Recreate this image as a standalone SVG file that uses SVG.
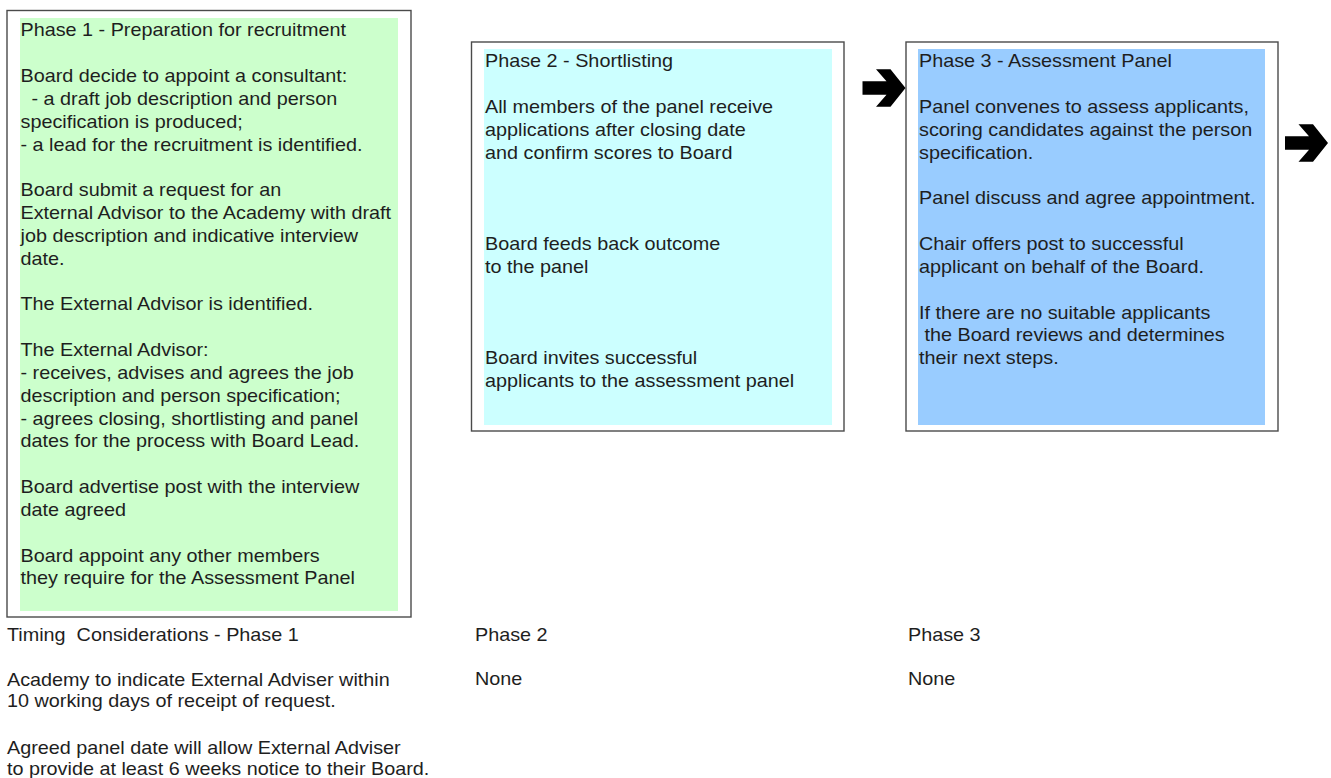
<svg xmlns="http://www.w3.org/2000/svg" width="1331" height="778" viewBox="0 0 1331 778">
<style>
  text { font-family: "Liberation Sans", Arial, sans-serif; font-size: 18px; fill: #1e1e1e; }
  .frame { fill: #ffffff; stroke: #4a4a4a; stroke-width: 1.4; }
  .p1 { fill: #ccffcc; }
  .p2 { fill: #ccffff; }
  .p3 { fill: #99ccff; }
  .arrow { fill: #000000; }
</style>
<defs>
  <path id="blockArrow" d="M0,-6.7 H24 L13.5,-18.7 H28 L43,0 L28,18.7 H13.5 L24,6.7 H0 Z"/>
</defs>
<rect width="1331" height="778" fill="#ffffff"/>

<g id="phase1">
  <rect class="frame" x="7" y="10.5" width="404" height="606.5"/>
  <rect class="p1" x="20" y="18" width="378" height="593"/>
  <g transform="translate(20.5,0) scale(1.1,1)">
    <text xml:space="preserve" x="0" y="36.5">Phase 1 - Preparation for recruitment</text>
    <text xml:space="preserve" x="0" y="82.2">Board decide to appoint a consultant:</text>
    <text xml:space="preserve" x="0" y="105">  - a draft job description and person</text>
    <text xml:space="preserve" x="0" y="127.8">specification is produced;</text>
    <text xml:space="preserve" x="0" y="150.6">- a lead for the recruitment is identified.</text>
    <text xml:space="preserve" x="0" y="196.3">Board submit a request for an</text>
    <text xml:space="preserve" x="0" y="219.1">External Advisor to the Academy with draft</text>
    <text xml:space="preserve" x="0" y="241.9">job description and indicative interview</text>
    <text xml:space="preserve" x="0" y="264.8">date.</text>
    <text xml:space="preserve" x="0" y="310.4">The External Advisor is identified.</text>
    <text xml:space="preserve" x="0" y="356.1">The External Advisor:</text>
    <text xml:space="preserve" x="0" y="378.9">- receives, advises and agrees the job</text>
    <text xml:space="preserve" x="0" y="401.8">description and person specification;</text>
    <text xml:space="preserve" x="0" y="424.6">- agrees closing, shortlisting and panel</text>
    <text xml:space="preserve" x="0" y="447.4">dates for the process with Board Lead.</text>
    <text xml:space="preserve" x="0" y="493.1">Board advertise post with the interview</text>
    <text xml:space="preserve" x="0" y="515.9">date agreed</text>
    <text xml:space="preserve" x="0" y="561.6">Board appoint any other members</text>
    <text xml:space="preserve" x="0" y="584.4">they require for the Assessment Panel</text>
  </g>
</g>

<g id="phase2">
  <rect class="frame" x="471.5" y="42" width="372.5" height="389"/>
  <rect class="p2" x="484" y="49" width="348" height="376"/>
  <g transform="translate(485,0) scale(1.1,1)">
    <text xml:space="preserve" x="0" y="67.5">Phase 2 - Shortlisting</text>
    <text xml:space="preserve" x="0" y="113.2">All members of the panel receive</text>
    <text xml:space="preserve" x="0" y="136">applications after closing date</text>
    <text xml:space="preserve" x="0" y="158.8">and confirm scores to Board</text>
    <text xml:space="preserve" x="0" y="250.1">Board feeds back outcome</text>
    <text xml:space="preserve" x="0" y="273">to the panel</text>
    <text xml:space="preserve" x="0" y="364.3">Board invites successful</text>
    <text xml:space="preserve" x="0" y="387.1">applicants to the assessment panel</text>
  </g>
</g>

<g id="phase3">
  <rect class="frame" x="906" y="42" width="372" height="389"/>
  <rect class="p3" x="918" y="49" width="347" height="376"/>
  <g transform="translate(919,0) scale(1.1,1)">
    <text xml:space="preserve" x="0" y="67.5">Phase 3 - Assessment Panel</text>
    <text xml:space="preserve" x="0" y="113.2">Panel convenes to assess applicants,</text>
    <text xml:space="preserve" x="0" y="136">scoring candidates against the person</text>
    <text xml:space="preserve" x="0" y="158.8">specification.</text>
    <text xml:space="preserve" x="0" y="204.5">Panel discuss and agree appointment.</text>
    <text xml:space="preserve" x="0" y="250.1">Chair offers post to successful</text>
    <text xml:space="preserve" x="0" y="273">applicant on behalf of the Board.</text>
    <text xml:space="preserve" x="0" y="318.6">If there are no suitable applicants</text>
    <text xml:space="preserve" x="0" y="341.5"> the Board reviews and determines</text>
    <text xml:space="preserve" x="0" y="364.3">their next steps.</text>
  </g>
</g>

<g id="timing1">
  <g transform="translate(7,0) scale(1.1,1)">
    <text xml:space="preserve" x="0" y="641.5">Timing  Considerations - Phase 1</text>
    <text xml:space="preserve" x="0" y="686">Academy to indicate External Adviser within</text>
    <text xml:space="preserve" x="0" y="707">10 working days of receipt of request.</text>
    <text xml:space="preserve" x="0" y="754.5">Agreed panel date will allow External Adviser</text>
    <text xml:space="preserve" x="0" y="775">to provide at least 6 weeks notice to their Board.</text>
  </g>
</g>

<g id="timing2">
  <g transform="translate(475,0) scale(1.1,1)">
    <text x="0" y="641.5">Phase 2</text>
    <text x="0" y="685.5">None</text>
  </g>
</g>

<g id="timing3">
  <g transform="translate(908,0) scale(1.1,1)">
    <text x="0" y="641.5">Phase 3</text>
    <text x="0" y="685.5">None</text>
  </g>
</g>

<g id="connectors">
  <use href="#blockArrow" class="arrow" transform="translate(862.5,88)"/>
  <use href="#blockArrow" class="arrow" transform="translate(1285,143)"/>
</g>
</svg>
